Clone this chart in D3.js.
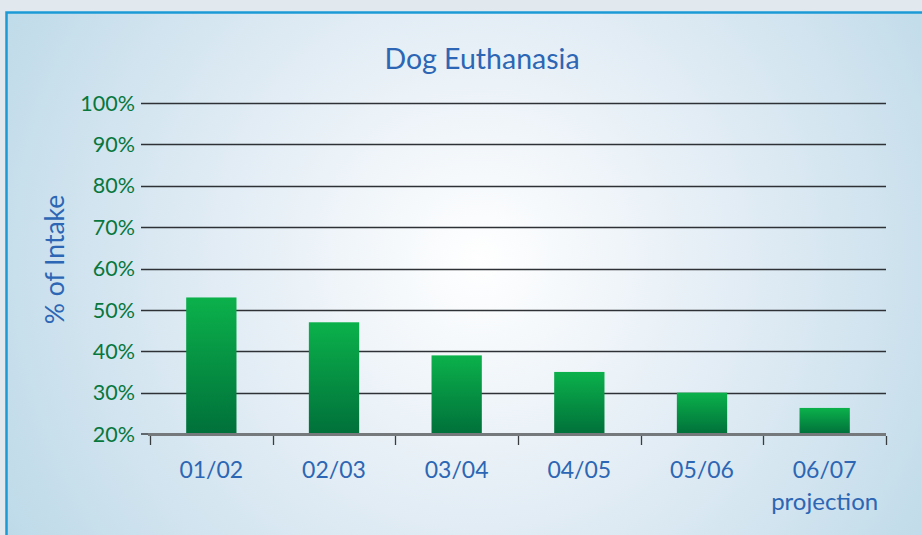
<!DOCTYPE html>
<html>
<head>
<meta charset="utf-8">
<script src="https://cdn.jsdelivr.net/npm/d3@7"></script>
<style>
  html, body { margin: 0; padding: 0; background: #e1e8ee; }
  svg { display: block; }
</style>
</head>
<body>
<svg id="chart" width="922" height="535"></svg>
<script>
const categories = ["01/02", "02/03", "03/04", "04/05", "05/06", "06/07"];
const subLabels = ["", "", "", "", "", "projection"];
const values = [53, 47, 39, 35, 30, 26.3];
const yTicks = [20, 30, 40, 50, 60, 70, 80, 90, 100];

const svg = d3.select("#chart");
const width = +svg.attr("width");
const height = +svg.attr("height");

const defs = svg.append("defs");

// panel background: bright centre fading to light blue
const bg = defs.append("radialGradient")
  .attr("id", "panel-bg")
  .attr("gradientUnits", "userSpaceOnUse")
  .attr("cx", 480).attr("cy", 260).attr("r", 560);
bg.append("stop").attr("offset", "0%").attr("stop-color", "#ffffff");
bg.append("stop").attr("offset", "45%").attr("stop-color", "#e3edf5");
bg.append("stop").attr("offset", "100%").attr("stop-color", "#bcd9e8");

const barGrad = defs.append("linearGradient")
  .attr("id", "bar-grad")
  .attr("x1", 0).attr("y1", 0).attr("x2", 0).attr("y2", 1);
barGrad.append("stop").attr("offset", "0%").attr("stop-color", "#0bb14b");
barGrad.append("stop").attr("offset", "100%").attr("stop-color", "#00703a");

// frame
svg.append("rect")
  .attr("x", 6.5).attr("y", 12.5)
  .attr("width", width + 20).attr("height", height + 20)
  .attr("fill", "url(#panel-bg)")
  .attr("stroke", "#1b9ad6")
  .attr("stroke-width", 2.5);

const margin = { left: 150, right: 36, top: 103, bottom: 101 };
const plotW = width - margin.left - margin.right;
const font = "Lato, 'Open Sans', sans-serif";

const x = d3.scaleBand()
  .domain(categories)
  .range([margin.left, width - margin.right])
  .paddingInner(0.59)
  .paddingOuter(0.295);

const y = d3.scaleLinear()
  .domain([20, 100])
  .range([height - margin.bottom, margin.top]);

// gridlines
svg.append("g")
  .selectAll("line")
  .data(yTicks.slice(1))
  .join("line")
  .attr("x1", margin.left - 9)
  .attr("x2", width - margin.right)
  .attr("y1", d => Math.round(y(d)) + 0.5)
  .attr("y2", d => Math.round(y(d)) + 0.5)
  .attr("stroke", "#2e3236")
  .attr("stroke-width", 1.4);

// y tick labels
svg.append("g")
  .selectAll("text")
  .data(yTicks)
  .join("text")
  .attr("x", margin.left - 15)
  .attr("y", d => y(d))
  .attr("dy", "0.36em")
  .attr("text-anchor", "end")
  .attr("fill", "#08773d")
  .style("font-family", font)
  .style("font-size", "21.5px")
  .text(d => d + "%");

// left tick at 20%
svg.append("line")
  .attr("x1", margin.left - 9).attr("x2", margin.left)
  .attr("y1", y(20)).attr("y2", y(20))
  .attr("stroke", "#2e3236").attr("stroke-width", 1.4);

// bars
svg.append("g")
  .selectAll("rect")
  .data(values)
  .join("rect")
  .attr("x", (d, i) => x(categories[i]))
  .attr("y", d => y(d))
  .attr("width", x.bandwidth())
  .attr("height", d => y(20) - y(d))
  .attr("fill", "url(#bar-grad)");

// x axis
const xAxis = svg.append("g");
xAxis.append("line")
  .attr("x1", margin.left - 2).attr("x2", width - margin.right)
  .attr("y1", y(20) + 0.5).attr("y2", y(20) + 0.5)
  .attr("stroke", "#76797c").attr("stroke-width", 3);

const tickXs = d3.range(categories.length + 1).map(i => margin.left + i * plotW / categories.length);
xAxis.selectAll(".tick")
  .data(tickXs)
  .join("line")
  .attr("class", "tick")
  .attr("x1", d => Math.round(d) + 0.5)
  .attr("x2", d => Math.round(d) + 0.5)
  .attr("y1", y(20) + 2)
  .attr("y2", y(20) + 11)
  .attr("stroke", "#3a3d40")
  .attr("stroke-width", 1.3);

// x labels
const labelG = svg.append("g")
  .style("font-family", font)
  .style("font-size", "23px")
  .attr("fill", "#2c66b4")
  .attr("text-anchor", "middle");

labelG.selectAll(".cat")
  .data(categories)
  .join("text")
  .attr("class", "cat")
  .attr("x", d => x(d) + x.bandwidth() / 2)
  .attr("y", 478)
  .text(d => d);

labelG.selectAll(".sub")
  .data(subLabels)
  .join("text")
  .attr("class", "sub")
  .attr("x", (d, i) => x(categories[i]) + x.bandwidth() / 2)
  .attr("y", 510)
  .style("font-size", "24px")
  .text(d => d);

// title
svg.append("text")
  .attr("x", 482)
  .attr("y", 69)
  .attr("text-anchor", "middle")
  .attr("fill", "#2c66b4")
  .style("font-family", font)
  .style("font-size", "28.5px")
  .text("Dog Euthanasia");

// y axis title
svg.append("text")
  .attr("transform", `translate(64, ${(y(20) + y(100)) / 2 - 9}) rotate(-90)`)
  .attr("text-anchor", "middle")
  .attr("fill", "#2c66b4")
  .style("font-family", font)
  .style("font-size", "26.5px")
  .text("% of Intake");
</script>
</body>
</html>
